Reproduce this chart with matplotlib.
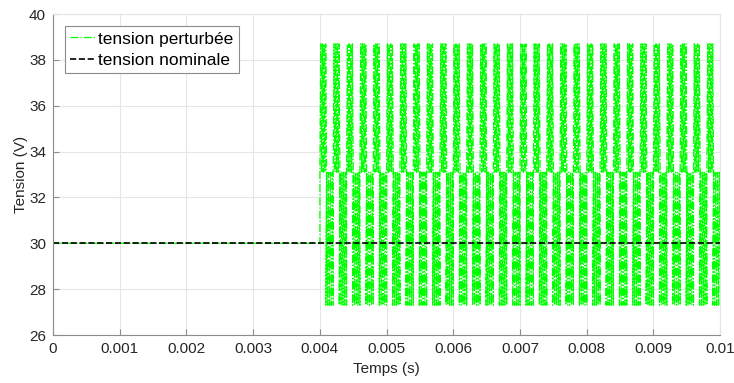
import numpy as np
import matplotlib.pyplot as plt

plt.rcParams['font.family'] = ['Liberation Sans', 'DejaVu Sans']

# values
t_end = 0.01
t_disturb = 0.004          # start of the disturbance (s)
burst_period = 0.0002      # period of the high / low bursts (s)
v_nominal = 30.0           # tension nominale (V)
upper_band = [33.1, 38.7]  # range swept during the high half of each burst
lower_band = [27.3, 33.1]  # range swept during the low half
n_swings = 4               # fast swings per half burst

# build the disturbed trace from the read levels
t_pert = [0.0, t_disturb]
v_pert = [v_nominal, v_nominal]
n_bursts = int(round((t_end - t_disturb) / burst_period))
for k in range(n_bursts):
    t0 = t_disturb + k * burst_period
    for band, start, stop in ((upper_band, 0.0, 0.5), (lower_band, 0.45, 1.0)):
        ts = np.linspace(t0 + start * burst_period, t0 + stop * burst_period, 2 * n_swings + 1)
        for i, t in enumerate(ts):
            t_pert.append(t)
            v_pert.append(band[1] if i % 2 else band[0])

t_nom = [0.0, t_end]
v_nom = [v_nominal, v_nominal]

fig = plt.figure(figsize=(7.34, 3.83), dpi=100)
ax = fig.add_axes([0.0722, 0.1253, 0.909, 0.838])

ax.plot(t_pert, v_pert, color='#00ff00', linestyle='-.', linewidth=0.9, label='tension perturbée')
ax.plot(t_nom, v_nom, color='black', linestyle='--', linewidth=1.2, label='tension nominale')

ax.set_xlim(0, t_end)
ax.set_ylim(26, 40)
ax.set_xticks(np.arange(0, 0.0101, 0.001))
ax.set_xticklabels(['0', '0.001', '0.002', '0.003', '0.004', '0.005',
                    '0.006', '0.007', '0.008', '0.009', '0.01'])
ax.set_yticks(np.arange(26, 41, 2))

ax.grid(True, color='#e6e6e6', linewidth=0.8)
ax.set_axisbelow(True)
for side in ('left', 'bottom'):
    ax.spines[side].set_color('#8c8c8c')
for side in ('top', 'right'):
    ax.spines[side].set_color('#e6e6e6')
ax.tick_params(direction='in', length=4, colors='#8c8c8c', labelcolor='#262626',
               labelsize=11, top=False, right=False, pad=5)

ax.set_xlabel('Temps (s)', fontsize=11, color='#262626', labelpad=4)
ax.set_ylabel('Tension (V)', fontsize=11, color='#262626', labelpad=1)

leg = ax.legend(loc='upper left', fontsize=12.5, fancybox=False, framealpha=1,
                edgecolor='#8c8c8c', handlelength=1.5, handletextpad=0.1,
                borderpad=0.3, labelspacing=0.35, borderaxespad=0.7)
leg.get_frame().set_linewidth(0.8)

fig.savefig('out.png', dpi=100)
